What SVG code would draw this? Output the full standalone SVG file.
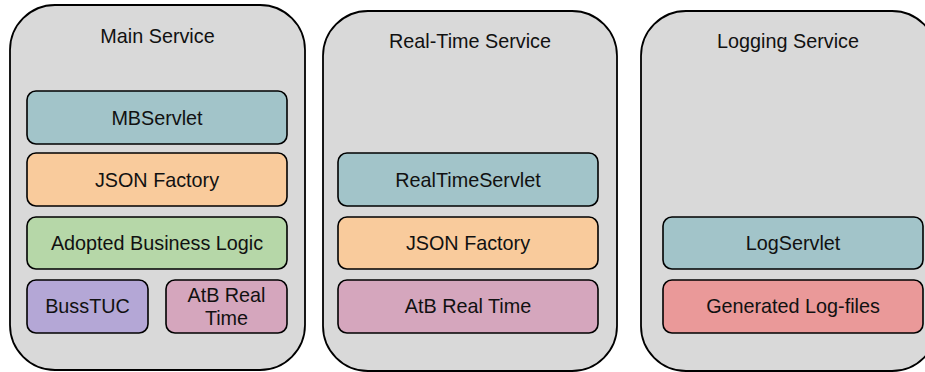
<svg xmlns="http://www.w3.org/2000/svg" width="925" height="372" viewBox="0 0 925 372">
<style>
  .svc { fill: #d9d9d9; stroke: #000; stroke-width: 1.8; }
  .box { stroke: #000; stroke-width: 1.6; }
  .teal { fill: #a2c4c9; }
  .orange { fill: #f9cb9c; }
  .green { fill: #b6d7a8; }
  .purple { fill: #b4a7d6; }
  .pink { fill: #d5a6bd; }
  .red { fill: #ea9999; }
  text { font-family: "Liberation Sans", Arial, sans-serif; font-size: 19.8px; fill: #111; text-anchor: middle; }
</style>
<rect width="925" height="372" fill="#fff"/>
<g id="main-service">
  <rect class="svc" x="10" y="5" width="295" height="365" rx="45" ry="45"/>
  <text x="157.5" y="43">Main Service</text>
</g>
<g id="mbservlet">
  <rect class="box teal" x="27" y="91" width="260" height="53" rx="9"/>
  <text x="157" y="124.5">MBServlet</text>
</g>
<g id="json-factory-main">
  <rect class="box orange" x="27" y="153" width="260" height="53" rx="9"/>
  <text x="157" y="186.5">JSON Factory</text>
</g>
<g id="adopted-business-logic">
  <rect class="box green" x="27" y="217" width="260" height="52" rx="9"/>
  <text x="157" y="250">Adopted Business Logic</text>
</g>
<g id="busstuc">
  <rect class="box purple" x="27" y="280" width="121" height="53" rx="9"/>
  <text x="87.5" y="313">BussTUC</text>
</g>
<g id="atb-real-time-main">
  <rect class="box pink" x="166" y="280" width="121" height="53" rx="9"/>
  <text x="226.5" y="302">AtB Real</text>
  <text x="226.5" y="325">Time</text>
</g>
<g id="real-time-service">
  <rect class="svc" x="323" y="11" width="294" height="360" rx="45" ry="45"/>
  <text x="470" y="48">Real-Time Service</text>
</g>
<g id="realtimeservlet">
  <rect class="box teal" x="338" y="153" width="260" height="53" rx="9"/>
  <text x="468" y="186.5">RealTimeServlet</text>
</g>
<g id="json-factory-rt">
  <rect class="box orange" x="338" y="217" width="260" height="52" rx="9"/>
  <text x="468" y="250">JSON Factory</text>
</g>
<g id="atb-real-time-rt">
  <rect class="box pink" x="338" y="280" width="260" height="53" rx="9"/>
  <text x="468" y="313">AtB Real Time</text>
</g>
<g id="logging-service">
  <rect class="svc" x="641" y="11" width="296" height="360" rx="45" ry="45"/>
  <text x="788" y="48">Logging Service</text>
</g>
<g id="logservlet">
  <rect class="box teal" x="663" y="217" width="260" height="52" rx="9"/>
  <text x="793" y="250">LogServlet</text>
</g>
<g id="generated-log-files">
  <rect class="box red" x="663" y="280" width="260" height="53" rx="9"/>
  <text x="793" y="313">Generated Log-files</text>
</g>
<g id="connectors"></g>
</svg>
